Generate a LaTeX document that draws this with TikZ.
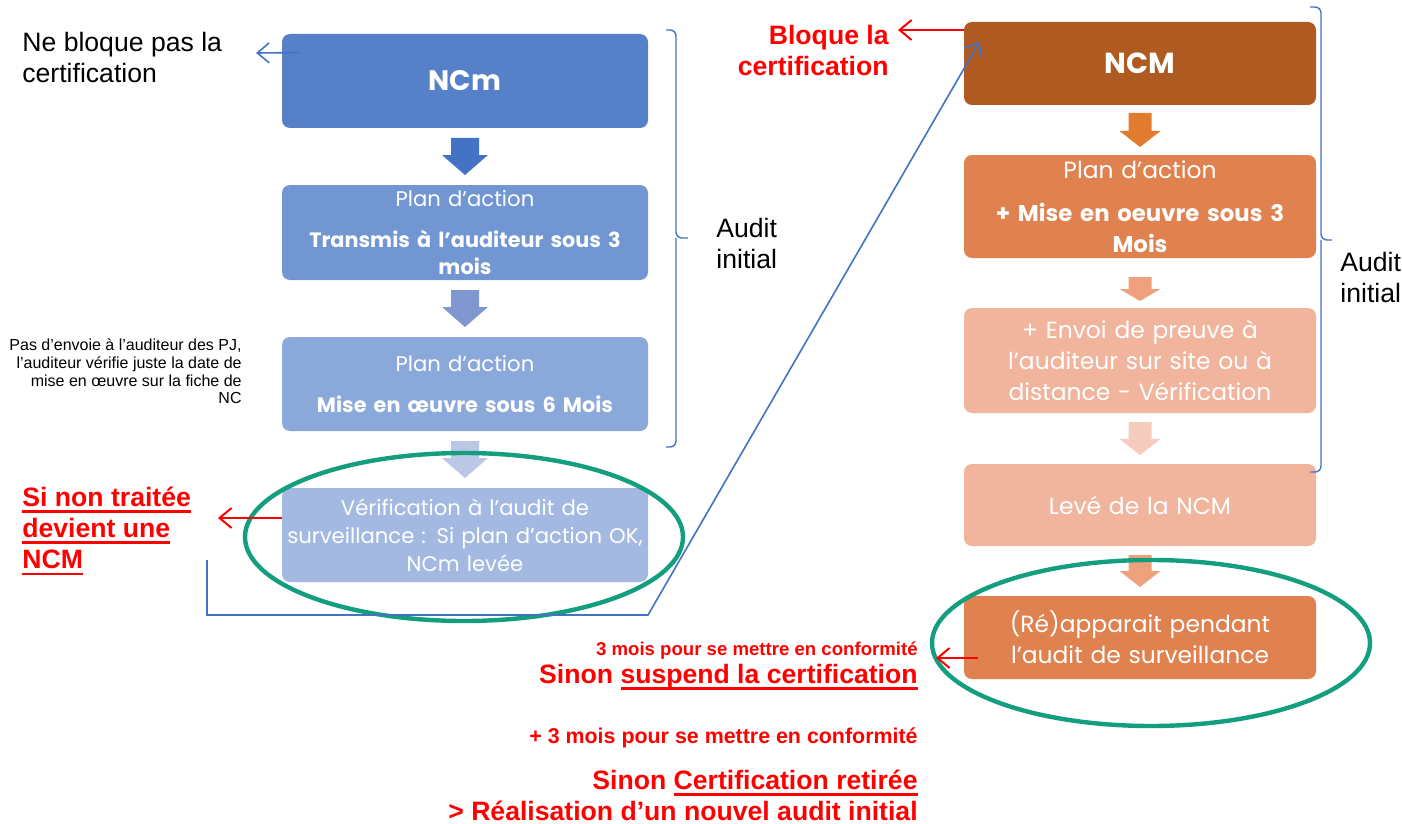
\documentclass[tikz,border=0pt]{standalone}
\usepackage{fontspec}
\setmainfont{Liberation Sans}
\newfontfamily\popfont{Poppins}
\definecolor{ncBlueA}{HTML}{5681C9}
\definecolor{ncBlueB}{HTML}{7196D2}
\definecolor{ncBlueC}{HTML}{8AA8DA}
\definecolor{ncBlueD}{HTML}{A3B9E1}
\definecolor{ncArrA}{HTML}{4472C4}
\definecolor{ncArrB}{HTML}{7F96CF}
\definecolor{ncArrC}{HTML}{BCC7E5}
\definecolor{ncBrown}{HTML}{AE5A21}
\definecolor{ncOrange}{HTML}{E0824F}
\definecolor{ncPeach}{HTML}{F0B59C}
\definecolor{ncArrD}{HTML}{E07B2F}
\definecolor{ncArrE}{HTML}{EFA07D}
\definecolor{ncArrF}{HTML}{F6CCBE}
\definecolor{ncGreen}{HTML}{139E7F}
\definecolor{ncRed}{HTML}{FF0000}
\definecolor{ncLine}{HTML}{4472C4}
\usetikzlibrary{calc,positioning,arrows.meta}
% thick underline in the current colour
\newcommand{\ulthick}[1]{\setbox0\hbox{#1}\leavevmode\rlap{\vrule height -2pt depth 3.3pt width \wd0}\box0}
% block arrow pointing down: x, top, head start, tip, shaft half, head half, colour
\newcommand{\blockdown}[7]{%
  \fill[#7] (#1-#5,#2) -- (#1+#5,#2) -- (#1+#5,#3) -- (#1+#6,#3) -- (#1,#4)
    -- (#1-#6,#3) -- (#1-#5,#3) -- cycle;}
\tikzset{
  ncbox/.style={fill=#1, rounded corners=4pt, text=white, align=center, inner sep=2pt},
  lbox/.style={ncbox=#1, minimum width=183pt, text width=178pt, font=\popfont\fontsize{10.6}{13.5}\selectfont},
  rbox/.style={ncbox=#1, minimum width=176pt, text width=172pt, font=\popfont\fontsize{11.7}{15.5}\selectfont},
  bluearrow/.style={draw=ncLine, line width=0.8pt, -{Straight Barb[length=6pt,width=10pt]}},
  redarrow/.style={draw=ncRed, line width=1pt, -{Straight Barb[length=6pt,width=10pt]}},
  bracket/.style={draw=ncLine, line width=0.7pt, rounded corners=3pt},
  ring/.style={draw=ncGreen, line width=2.2pt},
  note/.style={inner sep=0pt, font=\fontsize{13.3}{15.5}\selectfont},
  rednote/.style={inner sep=0pt, text=ncRed, font=\bfseries\fontsize{13.3}{15.7}\selectfont},
  redsmall/.style={inner sep=0pt, text=ncRed, font=\bfseries\fontsize{9.3}{11}\selectfont}
}
\begin{document}
\begin{tikzpicture}[x=0.5pt, y=-0.5pt]
  \useasboundingbox[fill=white] (0,0) rectangle (1402,824);

  % -- Left column: NCm --
  \node[lbox=ncBlueA, minimum height=47pt] (ncm) at (465,81)
    {\bfseries\fontsize{14.1}{17}\selectfont NCm};
  \node[lbox=ncBlueB, minimum height=47.5pt] (planA) at (465,232.5)
    {Plan d’action\\[7pt]\bfseries\fontsize{10.4}{13.5}\selectfont Transmis à l’auditeur sous 3\\\bfseries mois};
  \node[lbox=ncBlueC, minimum height=47pt] (planB) at (465,384)
    {Plan d’action\\[7pt]\bfseries\fontsize{10.4}{13.5}\selectfont Mise en œuvre sous 6 Mois};
  \node[lbox=ncBlueD, minimum height=47pt, font=\popfont\fontsize{10.6}{14}\selectfont] (verif) at (465,535)
    {Vérification à l’audit de\\surveillance : Si plan d’action OK,\\NCm levée};
  \blockdown{465}{138}{155}{175}{14}{23}{ncArrA}
  \blockdown{465}{290}{307}{327}{14}{23}{ncArrB}
  \blockdown{465}{441}{458}{478}{14}{23}{ncArrC}

  % -- Right column: NCM --
  \node[rbox=ncBrown, minimum height=41.5pt] (bigncm) at (1140,63.5)
    {\bfseries\fontsize{14.5}{17}\selectfont NCM};
  \node[rbox=ncOrange, minimum height=51.5pt] (planC) at (1140,206.5)
    {Plan d’action\\[6pt]\bfseries\fontsize{11.4}{15.5}\selectfont + Mise en oeuvre sous 3\\\bfseries Mois};
  \node[rbox=ncPeach, minimum height=52.5pt] (preuve) at (1140,360.5)
    {+ Envoi de preuve à\\l’auditeur sur site ou à\\distance - Vérification};
  \node[rbox=ncPeach, minimum height=41pt] (leve) at (1140,505) {Levé de la NCM};
  \node[rbox=ncOrange, minimum height=41.5pt] (reapp) at (1140,637.5)
    {(Ré)apparait pendant\\l’audit de surveillance};
  \blockdown{1140}{113}{131}{147}{11.5}{20.5}{ncArrD}
  \blockdown{1140}{277}{289}{301}{11.5}{20.5}{ncArrE}
  \blockdown{1140}{422}{439}{455}{11.5}{20.5}{ncArrF}
  \blockdown{1140}{555}{571}{587}{11.5}{20.5}{ncArrE}

  % -- Brackets --
  \draw[bracket] (666,30) -- (676,30) -- (676,238) -- (688,238);
  \draw[bracket] (676,238) -- (676,447) -- (666,447);
  \draw[bracket] (1310,7) -- (1321,7) -- (1321,240) -- (1332,240);
  \draw[bracket] (1321,240) -- (1321,472) -- (1310,472);
  \node[note, anchor=west, align=left] (auditL) at (716,243.5) {Audit\\initial};
  \node[note, anchor=west, align=left] (auditR) at (1340,277.5) {Audit\\initial};

  % -- Left notes --
  \node[note, anchor=west, align=left] (nebloque) at (22,57.5) {Ne bloque pas la\\certification};
  \node[inner sep=0pt, anchor=east, align=right, font=\fontsize{8}{8.85}\selectfont] (pasenvoi) at (242,371.5)
    {Pas d’envoie à l’auditeur des PJ,\\l’auditeur vérifie juste la date de\\mise en œuvre sur la fiche de\\NC};
  \node[rednote, anchor=west, align=left] (nontraitee) at (22,531)
    {\ulthick{Si non traitée}\\\ulthick{devient une}\\\ulthick{NCM}};
  \node[rednote, anchor=east, align=right] (bloque) at (889,50.5) {Bloque la\\certification};

  % -- Bottom notes --
  \node[redsmall, anchor=base east] (troismois) at (918,655) {3 mois pour se mettre en conformité};
  \node[rednote, anchor=base east] (suspend) at (918,683) {Sinon \ulthick{suspend la certification}};
  \node[redsmall, anchor=base east, font=\bfseries\fontsize{10.7}{12}\selectfont] (plustrois) at (918,743)
    {+ 3 mois pour se mettre en conformité};
  \node[rednote, anchor=base east] (retiree) at (918,789) {Sinon \ulthick{Certification retirée}};
  \node[rednote, anchor=base east] (nouvel) at (918,820) {> Réalisation d’un nouvel audit initial};

  % -- Rings --
  \draw[ring] (464,537) ellipse [x radius=109.5pt, y radius=42pt];
  \draw[ring] (1151,643) ellipse [x radius=109.5pt, y radius=41.5pt];

  % -- Connectors --
  \coordinate (tipNe) at (256,53);
  \coordinate (tipSi) at (218,518);
  \coordinate (tipBl) at (898,30);
  \coordinate (tipSu) at (936,658);
  \coordinate (loopstart) at (207,560);
  \coordinate (loopcorner) at (648,615);
  \draw[bluearrow] ($(ncm.north west)+(18,19)$) -- (tipNe);
  \draw[redarrow] (verif.west |- tipSi) -- (tipSi);
  \draw[redarrow] (bigncm.west |- tipBl) -- (tipBl);
  \draw[redarrow] ($(reapp.west |- tipSu)+(14,0)$) -- (tipSu);
  \draw[bluearrow] (loopstart) |- (loopcorner) -- ($(bigncm.north west)+(16,20)$);
\end{tikzpicture}
\end{document}
